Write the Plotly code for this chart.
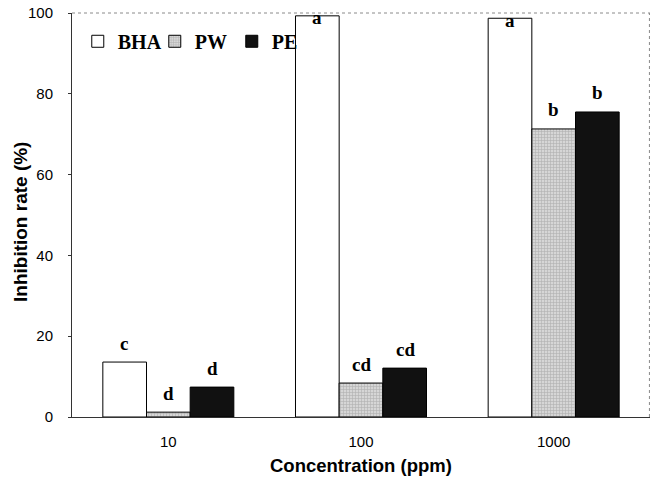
import plotly.graph_objects as go

categories = ["10", "100", "1000"]
series_names = ["BHA", "PW", "PE"]
bha = [13.6, 99.3, 98.7]
pw = [1.2, 8.4, 71.3]
pe = [7.4, 12.1, 75.5]
bha_letters = ["c", "a", "a"]
pw_letters = ["d", "cd", "b"]
pe_letters = ["d", "cd", "b"]
y_ticks = [0, 20, 40, 60, 80, 100]

values = [bha, pw, pe]
letters = [bha_letters, pw_letters, pe_letters]
colors = ["#ffffff", "#c4c4c4", "#111111"]
xpos = list(range(len(categories)))

fig = go.Figure()
for name, vals, col in zip(series_names, values, colors):
    marker = dict(color=col, line=dict(color="#000000", width=1))
    if name == "PW":
        marker["pattern"] = dict(shape="+", fgcolor="#8a8a8a", bgcolor="#d6d6d6", size=3, solidity=0.35)
    fig.add_trace(go.Bar(x=xpos, y=vals, name="<b>%s</b>" % name, marker=marker))

offsets = [-1, 0, 1]
for k, (vals, labs) in enumerate(zip(values, letters)):
    for i, (v, t) in enumerate(zip(vals, labs)):
        fig.add_annotation(
            x=xpos[i], y=v, text="<b>%s</b>" % t, showarrow=False,
            xref="x", yref="y", xshift=offsets[k] * 44,
            yshift=(-2 if v > 90 else 19),
            font=dict(family="Liberation Serif", size=19, color="#000"),
        )

fig.add_annotation(x=0.5, y=0, xref="paper", yref="paper", yshift=-48, yanchor="middle",
                   text="<b>Concentration (ppm)</b>", showarrow=False,
                   font=dict(size=18.5, family="Liberation Sans", color="#000"))
fig.add_annotation(x=0, y=0.5, xref="paper", yref="paper", xshift=-52, yshift=-7,
                   xanchor="center", text="<b>Inhibition rate (%)</b>", showarrow=False,
                   textangle=-90,
                   font=dict(size=19, family="Liberation Sans", color="#000"))

# dotted light frame on top and right
fig.add_shape(type="line", xref="paper", yref="paper", x0=0, x1=1, y0=1, y1=1,
              line=dict(color="#8a8a8a", width=1, dash="dot"))
fig.add_shape(type="line", xref="paper", yref="paper", x0=0.999, x1=0.999, y0=0, y1=1,
              line=dict(color="#8a8a8a", width=1, dash="dot"))

fig.update_layout(
    width=651, height=481,
    margin=dict(l=72, r=1, t=13, b=64, autoexpand=False),
    paper_bgcolor="white", plot_bgcolor="white",
    barmode="group", bargap=0.32, bargroupgap=0,
    showlegend=True,
    legend=dict(orientation="h", x=0.01, y=0.93, xanchor="left", yanchor="middle",
                font=dict(family="Liberation Serif", size=20, color="#000"),
                bgcolor="rgba(0,0,0,0)", itemwidth=30, tracegroupgap=0,
                entrywidth=32, entrywidthmode="pixels"),
    font=dict(family="Liberation Sans", color="#000"),
)
fig.update_xaxes(
    range=[-0.5, 2.5], tickvals=xpos, ticktext=categories,
    showgrid=False, showline=True, linecolor="#333", linewidth=1,
    mirror=False, ticks="", tickfont=dict(size=15, family="Liberation Sans"),
    ticklabelstandoff=11, zeroline=False, automargin=False,
)
fig.update_yaxes(
    range=[0, 100], tickvals=y_ticks, showgrid=False, showline=True, linecolor="#333",
    linewidth=1, mirror=False, ticks="outside", ticklen=3, tickcolor="#333",
    tickfont=dict(size=15, family="Liberation Sans"), ticklabelstandoff=12,
    zeroline=False, automargin=False,
)
fig.write_html("out.html", config={"displayModeBar": False},
               post_script="document.body.style.margin='0';")
